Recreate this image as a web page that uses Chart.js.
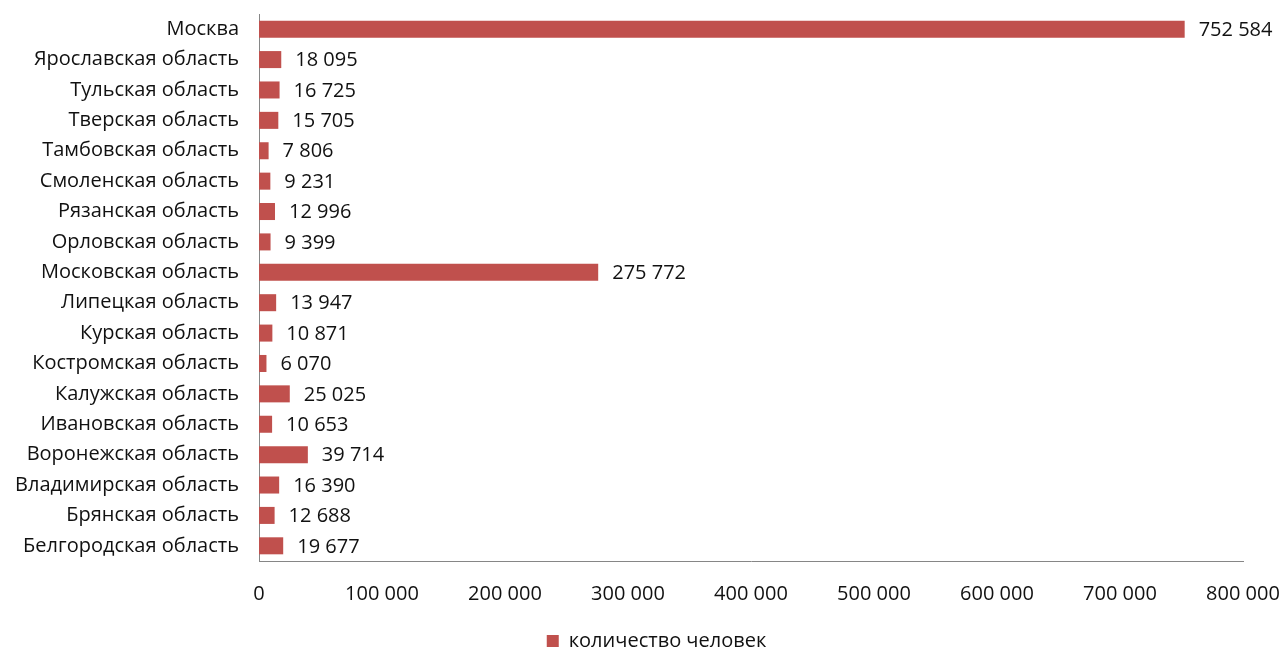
<!DOCTYPE html>
<html><head><meta charset="utf-8">
<script src="https://cdn.jsdelivr.net/npm/chart.js@4/dist/chart.umd.min.js"></script>
<style>html,body{margin:0;padding:0;background:#fff}#wrap{width:1285px;height:649px}</style>
</head><body><div id="wrap"><canvas id="c" width="1285" height="649"></canvas></div>
<script>
const categories = ["Москва","Ярославская область","Тульская область","Тверская область","Тамбовская область","Смоленская область","Рязанская область","Орловская область","Московская область","Липецкая область","Курская область","Костромская область","Калужская область","Ивановская область","Воронежская область","Владимирская область","Брянская область","Белгородская область"];
const values = [752584,18095,16725,15705,7806,9231,12996,9399,275772,13947,10871,6070,25025,10653,39714,16390,12688,19677];
const seriesName = "количество человек";
const xTicks = [0,100000,200000,300000,400000,500000,600000,700000,800000];

const FONT = "'Open Sans', 'Noto Sans', sans-serif";
const FS = 20;
const TXT = "#111111";
function fmt(v){ return String(v).replace(/\B(?=(\d{3})+(?!\d))/g, ' '); }

const labelPlugin = {
  id: 'vals',
  afterLayout(chart){
    const lg = chart.legend;
    if (lg) { lg.left += 35; lg.right += 35; }
  },
  afterDatasetsDraw(chart){
    const ctx = chart.ctx;
    const meta = chart.getDatasetMeta(0);
    ctx.save();
    ctx.font = FS + "px " + FONT;
    ctx.fillStyle = TXT;
    ctx.textAlign = "left";
    ctx.textBaseline = "middle";
    meta.data.forEach((bar,i)=>{
      ctx.fillText(fmt(values[i]), bar.x + 14, bar.y + 1);
    });
    ctx.restore();
  }
};

new Chart(document.getElementById('c'), {
  type: 'bar',
  data: { labels: categories, datasets: [{ label: seriesName, data: values, backgroundColor: '#C0504D', borderWidth: 0, barPercentage: 0.56, categoryPercentage: 1.0 }] },
  options: {
    indexAxis: 'y',
    responsive: false,
    animation: false,
    layout: { padding: { top: 14, right: 42, left: 0, bottom: -12 } },
    plugins: {
      legend: { position: 'bottom', labels: { font: { family: FONT, size: FS }, color: TXT, boxWidth: 12, boxHeight: 12, padding: 0 } },
      tooltip: { enabled: false }
    },
    scales: {
      x: {
        min: 0, max: 800000,
        afterBuildTicks(s){ s.ticks = xTicks.map(v=>({value:v})); },
        grid: { display: false, drawTicks: false },
        border: { display: true, color: '#868686', width: 1 },
        ticks: { padding: 21, font: { family: FONT, size: FS }, color: TXT, callback: v => fmt(v), maxRotation: 0 },
        afterFit(s){ s.height = 70; s.paddingLeft = 0; s.paddingRight = 0; }
      },
      y: {
        grid: { display: false, drawTicks: false },
        border: { display: true, color: '#868686', width: 1 },
        ticks: { padding: 20, font: { family: FONT, size: FS }, color: TXT, autoSkip: false },
        afterFit(s){ s.width = 259; s.paddingTop = 0; s.paddingBottom = 0; }
      }
    }
  },
  plugins: [labelPlugin]
});
</script></body></html>
